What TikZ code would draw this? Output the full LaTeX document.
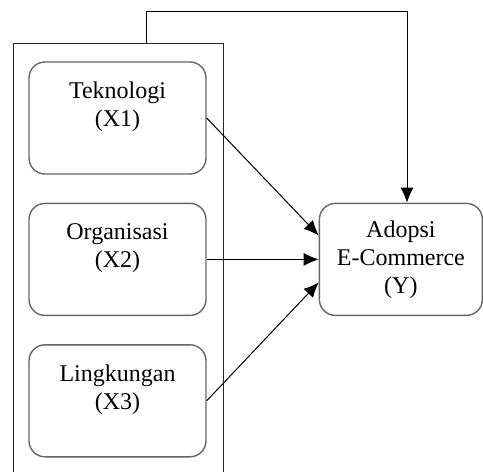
\documentclass[tikz,border=0pt]{standalone}
\usepackage{fontspec}
\setmainfont{Liberation Serif}
\usepackage{tikz}
\usetikzlibrary{arrows.meta,positioning,calc}
\tikzset{
  varbox/.style={rectangle, rounded corners=8pt, draw=black!60, line width=0.7pt, align=center, minimum width=88.5pt, minimum height=56pt, font=\fontsize{12}{14}\selectfont},
  ybox/.style={varbox, minimum width=81.5pt},
  arrow/.style={-{Latex[length=7.5pt,width=6.5pt]}, line width=0.5pt, draw=black},
  frameline/.style={line width=0.5pt, draw=black!85}
}
\begin{document}
\begin{tikzpicture}[x=0.5pt, y=-0.5pt, node distance=14pt and 56pt]
  \useasboundingbox (0,0) rectangle (483,472);
  \node[varbox] (tek) at (117.5,118) {Teknologi\\(X1)\\\mbox{}};
  \node[varbox, below=of tek] (org) {Organisasi\\(X2)\\\mbox{}};
  \node[varbox, below=of org] (lin) {Lingkungan\\(X3)\\\mbox{}};
  \node[ybox, right=of org] (adopsi) {Adopsi\\E-Commerce\\(Y)};
  % frame round the three variables
  \coordinate (frametop) at (146,43);
  \draw[frameline] (13,472) |- (223,43) -- (223,472);
  \coordinate (turn) at (407,11);
  \draw[arrow] (frametop) |- (turn) -- (turn |- adopsi.north);
  \draw[arrow] (tek.east) -- ($(adopsi.west)+(0,-24)$);
  \draw[arrow] (org.east) -- (adopsi.west);
  \draw[arrow] (lin.east) -- ($(adopsi.west)+(0,23)$);
\end{tikzpicture}
\end{document}
